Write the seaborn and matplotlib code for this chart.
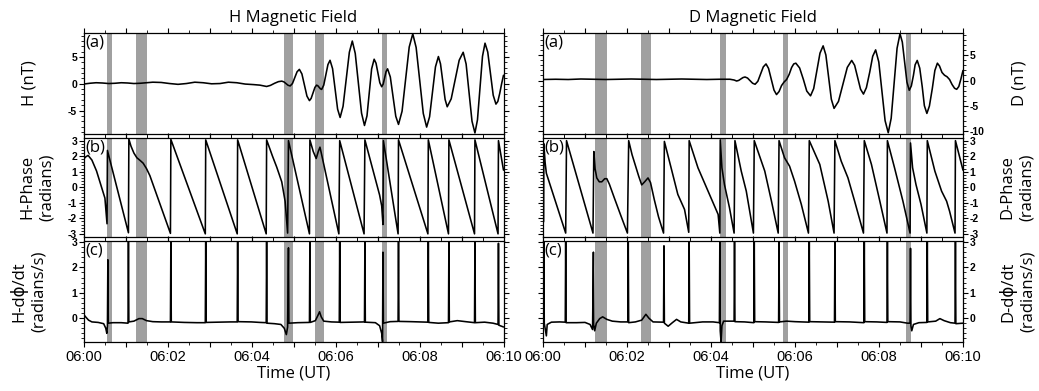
import matplotlib
matplotlib.use("Agg")
import matplotlib.pyplot as plt
import seaborn as sns
from matplotlib.ticker import MultipleLocator

# ---------------------------------------------------------------- data
# time axis: minutes after 06:00 UT
time_labels = ["06:00", "", "06:02", "", "06:04", "", "06:06", "", "06:08", "", "06:10"]

# H component (nT)
h_field_t = [0.00, 0.15, 0.30, 0.45, 0.60, 0.75, 0.90, 1.05, 1.20, 1.35, 1.50, 1.65, 1.85,
             2.05, 2.25, 2.45, 2.65, 2.85, 3.05, 3.25, 3.45, 3.65, 3.85, 4.05, 4.20, 4.36,
             4.45, 4.55, 4.64, 4.72, 4.77, 4.82, 4.87, 4.92, 4.975, 5.03, 5.085, 5.14, 5.20,
             5.26, 5.32, 5.38, 5.42, 5.465, 5.51, 5.55, 5.58, 5.61, 5.64, 5.67, 5.72, 5.77,
             5.82, 5.87, 5.93, 5.99, 6.05, 6.11, 6.18, 6.255, 6.33, 6.40, 6.47, 6.545, 6.62,
             6.69, 6.75, 6.805, 6.86, 6.92, 6.965, 7.01, 7.055, 7.10, 7.135, 7.17, 7.205, 7.24,
             7.305, 7.37, 7.435, 7.50, 7.585, 7.67, 7.755, 7.84, 7.92, 8.005, 8.09, 8.17, 8.24,
             8.31, 8.38, 8.45, 8.50, 8.555, 8.61, 8.66, 8.755, 8.85, 8.945, 9.04, 9.11, 9.18,
             9.25, 9.32, 9.38, 9.44, 9.50, 9.56, 9.625, 9.69, 9.755, 9.82, 9.865, 9.91, 9.955,
             10.0]
h_field_nT = [-0.05, 0.10, 0.20, 0.15, 0.05, 0.10, 0.20, 0.15, 0.05, 0.10, 0.20, 0.30, 0.25,
              0.05, -0.10, 0.05, 0.30, 0.20, 0.00, 0.05, 0.30, 0.20, -0.05, -0.15, -0.25, -0.50,
              -0.30, 0.10, 0.40, 0.50, 0.37, 0.05, -0.27, -0.40, 0.05, 1.15, 2.25, 2.70, 1.85,
              -0.22, -2.30, -3.15, -2.73, -1.70, -0.67, -0.25, -0.37, -0.65, -0.93, -1.05, -0.25, 1.67,
              3.60, 4.40, 2.84, -0.95, -4.74, -6.30, -4.21, 0.85, 5.91, 8.00, 5.69, 0.10, -5.49,
              -7.80, -5.99, -1.60, 2.79, 4.60, 3.85, 2.03, 0.20, -0.55, -0.06, 1.13, 2.31, 2.80,
              1.28, -2.40, -6.08, -7.60, -5.13, 0.88, 6.88, 9.35, 6.80, 0.63, -5.55, -8.10, -6.17,
              -1.50, 3.17, 5.10, 3.73, 0.40, -2.93, -4.30, -2.81, 0.80, 4.41, 5.90, 3.70, -1.65,
              -7.00, -9.20, -6.75, -0.80, 5.15, 7.60, 5.94, 1.90, -2.14, -3.80, -3.30, -1.80, 0.00,
              1.60]

# D component (nT)
d_field_t = [0.0, 0.3, 0.6, 0.9, 1.2, 1.5, 1.8, 2.1, 2.4, 2.7, 3.0, 3.3, 3.6, 3.9, 4.2, 4.45,
             4.55, 4.61, 4.66, 4.71, 4.76, 4.81, 4.87, 4.93, 4.99, 5.05, 5.115, 5.18, 5.245, 5.31,
             5.37, 5.435, 5.50, 5.56, 5.62, 5.68, 5.74, 5.80, 5.86, 5.92, 5.97, 6.02, 6.11, 6.20,
             6.28, 6.37, 6.445, 6.52, 6.595, 6.67, 6.735, 6.80, 6.865, 6.93, 7.035, 7.14, 7.245,
             7.35, 7.42, 7.49, 7.56, 7.63, 7.70, 7.78, 7.85, 7.92, 7.995, 8.07, 8.145, 8.22, 8.29,
             8.36, 8.43, 8.50, 8.555, 8.61, 8.665, 8.72, 8.77, 8.82, 8.86, 8.91, 8.97, 9.03, 9.08,
             9.14, 9.20, 9.27, 9.33, 9.39, 9.44, 9.50, 9.56, 9.62, 9.68, 9.74, 9.80, 9.85, 9.90,
             9.95, 10.0]
d_field_nT = [0.20, 0.25, 0.20, 0.30, 0.25, 0.20, 0.25, 0.30, 0.25, 0.20, 0.25, 0.30, 0.25, 0.20,
              0.25, 0.25, 0.10, -0.10, 0.02, 0.30, 0.58, 0.70, 0.49, -0.03, -0.54, -0.75, -0.16,
              1.28, 2.71, 3.30, 2.41, 0.25, -1.91, -2.80, -2.20, -1.00, -0.30, 0.20, 1.20, 2.60,
              3.30, 3.45, 2.50, 0.20, -2.10, -3.05, -1.60, 1.93, 5.45, 6.90, 5.08, 0.68, -3.73,
              -5.55, -4.16, -0.78, 2.61, 4.00, 3.02, 0.65, -1.72, -2.70, -1.42, 1.70, 4.82, 6.10,
              3.69, -2.15, -7.99, -10.40, -7.52, -0.55, 6.42, 9.30, 7.66, 3.68, -0.31, -1.95, -1.08,
              1.03, 3.13, 4.00, 2.46, -1.28, -5.01, -6.55, -5.09, -1.55, 1.99, 3.45, 2.90, 1.60,
              1.05, 0.75, 0.20, -0.80, -1.55, -1.75, -1.20, 0.30, 2.00]

# H phase (radians)
h_phase_t = [0.00, 0.05, 0.11, 0.20, 0.31, 0.43, 0.51, 0.56, 0.57, 1.07, 1.08, 1.13, 1.20,
             1.27, 1.35, 1.42, 1.50, 1.58, 2.07, 2.08, 2.90, 2.91, 3.66, 3.67, 4.35, 4.36, 4.50,
             4.60, 4.72, 4.80, 4.86, 4.88, 5.38, 5.39, 5.47, 5.54, 5.59, 5.63, 5.67, 6.08, 6.10,
             6.68, 6.70, 7.05, 7.10, 7.13, 7.14, 7.49, 7.50, 8.20, 8.21, 8.69, 8.70, 9.31, 9.32,
             9.87, 9.88, 10.00]
h_phase_rad = [1.80, 1.95, 2.05, 1.75, 1.05, 0.00, -0.70, -2.35, 2.37, -2.93, 3.10, 2.65, 2.20,
               1.90, 1.72, 1.55, 1.20, 0.75, -2.97, 3.08, -3.00, 3.05, -3.00, 3.05, -3.00, 3.05, 2.00,
               1.30, 0.35, -0.90, -2.95, 3.00, -3.00, 3.05, 2.30, 1.85, 2.30, 2.58, 2.10, -3.00, 3.00,
               -3.00, 3.05, -0.50, -1.20, -2.40, 3.00, -3.00, 3.05, -3.00, 3.05, -3.00, 3.05, -3.00, 3.05,
               -3.00, 3.00, 1.10]

# D phase (radians)
d_phase_t = [0.00, 0.015, 0.02, 0.05, 0.08, 0.54, 0.56, 1.19, 1.21, 1.24, 1.28, 1.34, 1.40,
             1.47, 1.52, 1.58, 1.70, 1.85, 2.01, 2.04, 2.12, 2.20, 2.28, 2.35, 2.42, 2.50, 2.56,
             2.65, 2.75, 2.87, 2.89, 3.05, 3.21, 3.37, 3.47, 3.48, 3.69, 3.93, 4.17, 4.21, 4.22,
             4.26, 4.32, 4.44, 4.55, 4.57, 4.72, 4.84, 5.01, 5.03, 5.28, 5.44, 5.60, 5.62, 5.75,
             5.87, 5.99, 6.15, 6.32, 6.34, 6.59, 6.79, 6.93, 6.95, 7.10, 7.26, 7.42, 7.63, 7.65,
             7.82, 8.02, 8.19, 8.20, 8.37, 8.57, 8.74, 8.75, 8.80, 8.88, 9.00, 9.14, 9.15, 9.33,
             9.49, 9.61, 9.68, 9.81, 9.82, 10.00]
d_phase_rad = [-2.30, -2.20, 2.80, 1.60, 0.90, -2.95, 3.00, -2.95, 2.30, 1.20, 0.60, 0.35, 0.35,
               0.55, 0.55, 0.20, -0.70, -1.80, -2.95, 3.00, 2.10, 1.40, 0.70, 0.15, 0.35, 0.60, 0.30,
               -0.80, -1.90, -2.95, 2.95, 1.25, -0.46, -1.43, -2.90, 3.00, 1.25, -0.25, -1.75, -2.95,
               3.05, 1.25, 0.18, -1.32, -2.95, 3.00, 1.04, -0.25, -2.95, 3.00, 1.04, -0.90, -2.95,
               3.00, 1.90, 1.36, 0.39, -1.10, -2.95, 3.00, 1.47, -0.90, -2.95, 3.00, 1.68, 0.61,
               -0.90, -2.95, 3.00, 1.47, -0.90, -2.95, 3.00, 1.25, -0.90, -2.95, 2.85, 1.25, 0.18,
               -1.10, -2.95, 3.00, 1.04, -0.25, -0.90, -1.54, -2.95, 3.00, 1.10]

# H phase rate (radians/s)
h_rate_t = [0.00, 0.05, 0.12, 0.20, 0.35, 0.48, 0.53, 0.555, 0.57, 0.58, 0.59, 0.70, 0.90,
            1.06, 1.07, 1.08, 1.20, 1.32, 1.40, 1.50, 1.65, 1.85, 2.07, 2.08, 2.09, 2.40, 2.70,
            2.90, 2.91, 2.92, 3.20, 3.50, 3.66, 3.67, 3.68, 4.00, 4.20, 4.35, 4.36, 4.37, 4.55,
            4.70, 4.78, 4.83, 4.86, 4.88, 4.89, 5.10, 5.38, 5.39, 5.40, 5.52, 5.58, 5.62, 5.66,
            5.72, 5.90, 6.09, 6.10, 6.11, 6.40, 6.69, 6.70, 6.71, 6.95, 7.05, 7.10, 7.12, 7.13,
            7.14, 7.30, 7.49, 7.50, 7.51, 7.80, 8.00, 8.20, 8.21, 8.22, 8.45, 8.69, 8.70, 8.71,
            8.90, 9.10, 9.31, 9.32, 9.33, 9.55, 9.75, 9.87, 9.88, 9.89, 10.0]
h_rate = [0.15, 0.05, -0.08, -0.15, -0.17, -0.22, -0.40, -0.60, -0.30, 2.30, -0.20, -0.18, -0.18,
          -0.20, 3.00, -0.15, -0.12, -0.02, -0.02, -0.10, -0.14, -0.15, -0.15, 3.00, -0.15, -0.17,
          -0.18, -0.18, 3.00, -0.17, -0.16, -0.15, -0.15, 3.00, -0.14, -0.15, -0.17, -0.18, 3.00,
          -0.20, -0.22, -0.25, -0.40, -0.65, -0.35, 2.77, -0.20, -0.18, -0.17, 3.00, -0.17, -0.10,
          0.10, 0.25, 0.05, -0.12, -0.15, -0.16, 3.00, -0.17, -0.16, -0.15, 3.00, -0.16, -0.18,
          -0.30, -0.60, -0.93, 2.60, -0.20, -0.14, -0.13, 3.00, -0.13, -0.14, -0.15, -0.16, 3.00,
          -0.17, -0.20, -0.18, 3.00, -0.15, -0.10, -0.14, -0.18, 3.00, -0.18, -0.16, -0.20, -0.25,
          2.95, -0.28, -0.35]

# D phase rate (radians/s)
d_rate_t = [0.00, 0.01, 0.02, 0.03, 0.05, 0.08, 0.10, 0.20, 0.40, 0.53, 0.54, 0.55, 0.80, 1.00,
            1.12, 1.18, 1.20, 1.21, 1.23, 1.27, 1.35, 1.42, 1.52, 1.65, 1.85, 2.02, 2.03, 2.04,
            2.20, 2.35, 2.45, 2.52, 2.62, 2.87, 2.88, 2.89, 2.98, 3.08, 3.18, 3.28, 3.47, 3.48,
            3.49, 3.80, 4.05, 4.20, 4.21, 4.22, 4.24, 4.26, 4.30, 4.55, 4.56, 4.57, 4.80, 5.02,
            5.03, 5.04, 5.30, 5.61, 5.62, 5.63, 5.80, 6.00, 6.33, 6.34, 6.35, 6.65, 6.94, 6.95,
            6.96, 7.30, 7.64, 7.65, 7.66, 7.95, 8.19, 8.20, 8.21, 8.50, 8.68, 8.74, 8.75, 8.76,
            8.78, 8.82, 8.95, 9.14, 9.15, 9.16, 9.35, 9.45, 9.55, 9.70, 9.81, 9.82, 9.83, 10.0]
d_rate = [-0.10, -0.15, 3.00, -0.20, -0.40, -0.70, -0.25, -0.16, -0.15, -0.16, 3.00, -0.18, -0.18,
          -0.17, -0.25, -0.45, 2.60, -0.25, -0.50, -0.20, -0.02, 0.05, -0.05, -0.12, -0.15, -0.15,
          3.00, -0.18, -0.15, -0.08, 0.15, 0.00, -0.15, -0.16, 2.85, -0.20, -0.32, -0.18, -0.05,
          -0.15, -0.20, 3.00, -0.20, -0.15, -0.15, -0.18, 3.00, -0.50, -0.95, -0.30, -0.12, -0.12,
          3.00, -0.14, -0.15, -0.18, 3.00, -0.14, -0.15, -0.17, 3.00, -0.15, -0.12, -0.14, -0.16,
          3.00, -0.14, -0.15, -0.16, 3.00, -0.14, -0.15, -0.18, 3.00, -0.14, -0.15, -0.17, 3.00,
          -0.14, -0.15, -0.20, -0.20, 2.75, -0.30, -0.50, -0.25, -0.18, -0.17, 3.00, -0.15, -0.12,
          -0.02, -0.10, -0.18, -0.20, 3.00, -0.22, -0.20]

# shaded intervals (start, end) in minutes
h_bands = [(0.55, 0.67), (1.24, 1.52), (4.77, 4.98), (5.50, 5.72), (7.10, 7.22)]
d_bands = [(1.24, 1.53), (2.34, 2.56), (4.21, 4.35), (5.71, 5.84), (8.64, 8.76)]

# ---------------------------------------------------------------- style
sns.set_style("ticks", {"axes.edgecolor": "black", "xtick.color": "black",
                        "ytick.color": "black", "text.color": "black",
                        "axes.labelcolor": "black"})
plt.rcParams["font.family"] = ["Open Sans", "DejaVu Sans"]
plt.rcParams["axes.linewidth"] = 0.9

W, H = 1039, 391
fig = plt.figure(figsize=(W / 100, H / 100), dpi=100)

rows = [(33.3, 133.5), (138.0, 236.5), (241.0, 341.7)]
cols = [83.5, 543.0]
AX_W = 420.0

band_color = "#a0a0a0"
tick_family = ["Liberation Sans", "DejaVu Sans"]
label_font = ["Open Sans", "DejaVu Sans"]
LABEL_SIZE = 12


def make_axes(col_px, row):
    top, bot = row
    return fig.add_axes([col_px / W, 1 - bot / H, AX_W / W, (bot - top) / H])


def style_axes(ax, right_labels, show_x):
    ax.set_xlim(0, 10)
    ax.set_xticks(range(11))
    if show_x:
        ax.set_xticklabels(time_labels, fontsize=10.5, fontfamily=tick_family)
    else:
        ax.set_xticklabels([""] * 11)
    ax.xaxis.set_minor_locator(MultipleLocator(0.5))
    ax.tick_params(axis="both", which="both", direction="out",
                   top=True, bottom=True, left=True, right=True, colors="black")
    ax.tick_params(which="major", length=3.8, width=0.8)
    ax.tick_params(which="minor", length=2.2, width=0.6)
    ax.tick_params(axis="x", which="major", pad=2)
    ax.tick_params(axis="y", which="major", pad=0.8,
                   labelleft=not right_labels, labelright=right_labels)
    for s in ax.spines.values():
        s.set_visible(True)
        s.set_color("black")
        s.set_linewidth(0.9)
    ax.set_xlabel("")
    ax.set_ylabel("")


def set_y(ax, lo, hi, ticks, minor):
    ax.set_ylim(lo, hi)
    ax.set_yticks(ticks, [str(t) for t in ticks], fontsize=7.5, fontweight="bold",
                  fontfamily=tick_family)
    ax.yaxis.set_minor_locator(MultipleLocator(minor))


def draw(ax, t, v, bands):
    for a, b in bands:
        ax.axvspan(a, b, color=band_color, lw=0, zorder=0)
    sns.lineplot(x=t, y=v, ax=ax, color="black", linewidth=1.15,
                 estimator=None, sort=False, errorbar=None, zorder=3)


columns = [
    dict(name="H", field=(h_field_t, h_field_nT), phase=(h_phase_t, h_phase_rad),
         rate=(h_rate_t, h_rate), bands=h_bands, ylim_a=(-9.3, 9.45),
         ticks_a=[-5, 0, 5], right=False),
    dict(name="D", field=(d_field_t, d_field_nT), phase=(d_phase_t, d_phase_rad),
         rate=(d_rate_t, d_rate), bands=d_bands, ylim_a=(-10.55, 9.4),
         ticks_a=[-10, -5, 0, 5], right=True),
]

for col_px, c in zip(cols, columns):
    axa = make_axes(col_px, rows[0])
    axb = make_axes(col_px, rows[1])
    axc = make_axes(col_px, rows[2])

    draw(axa, *c["field"], c["bands"])
    draw(axb, *c["phase"], c["bands"])
    draw(axc, *c["rate"], c["bands"])

    for ax, show_x in ((axa, False), (axb, False), (axc, True)):
        style_axes(ax, c["right"], show_x)

    set_y(axa, c["ylim_a"][0], c["ylim_a"][1], c["ticks_a"], 1)
    set_y(axb, -3.17, 3.17, [-3, -2, -1, 0, 1, 2, 3], 0.2)
    set_y(axc, -0.93, 3.04, [0, 1, 2, 3], 0.2)

    for ax, tag in ((axa, "(a)"), (axb, "(b)"), (axc, "(c)")):
        ax.text(0.004, 0.985, tag, transform=ax.transAxes, ha="left", va="top",
                fontsize=12, family=label_font, zorder=5)

    cx = (col_px + AX_W / 2) / W
    fig.text(cx, 1 - 18 / H, f"{c['name']} Magnetic Field", ha="center", va="center",
             fontsize=LABEL_SIZE, family=label_font)
    fig.text(cx, 1 - 374 / H, "Time (UT)", ha="center", va="center",
             fontsize=LABEL_SIZE, family=label_font)

    n = c["name"]
    ylabels = [f"{n} (nT)", f"{n}-Phase\n(radians)", f"{n}-d\u03d5/dt\n(radians/s)"]
    if c["right"]:
        xs = [1020, 1017.5, 1017]
    else:
        xs = [30, 37, 28]
    for (top, bot), lab, x in zip(rows, ylabels, xs):
        fig.text(x / W, 1 - (top + bot) / 2 / H, lab, rotation=90, ha="center",
                 va="center", fontsize=LABEL_SIZE, family=label_font, linespacing=1.3,
                 multialignment="center")

fig.savefig("out.png", dpi=100)
